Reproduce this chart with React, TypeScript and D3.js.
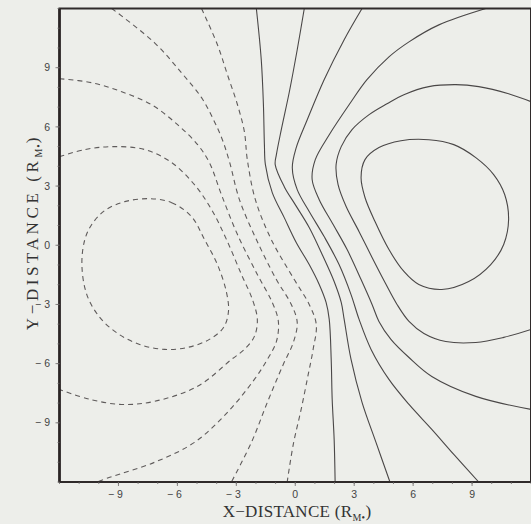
import React, {useRef, useEffect} from 'react';
import * as d3 from "d3";

type Pt = [number, number];

// negative (dashed) contours, x/y in R_M
const negLoop: Pt[] = [
  [-7.41, 2.36], [-6.29, 2.16], [-5.28, 1.45], [-4.62, 0.29], [-3.96, -0.98], [-3.5, -2.39],
  [-3.4, -3.36], [-3.65, -4.17], [-4.37, -4.77], [-5.48, -5.18], [-6.65, -5.28], [-7.92, -5.03],
  [-9.04, -4.47], [-9.95, -3.66], [-10.61, -2.5], [-10.86, -0.98], [-10.71, 0.29], [-10.36, 1.05],
  [-9.7, 1.76], [-8.68, 2.21],
];
const neg2: Pt[] = [
  [-12, 4.49], [-10.71, 4.85], [-9.29, 5.0], [-7.66, 4.85], [-6.29, 4.19], [-5.13, 3.07],
  [-4.26, 1.81], [-3.5, 0.29], [-2.74, -1.48], [-2.18, -2.75], [-1.93, -3.76], [-2.08, -4.62],
  [-2.59, -5.28], [-3.25, -5.79], [-4.97, -7.15], [-7.16, -7.91], [-8.83, -8.07], [-10.46, -7.81],
  [-12, -7.31],
];
const neg3: Pt[] = [
  [-12, 8.44], [-10.36, 8.24], [-8.83, 7.78], [-7.31, 7.12], [-5.99, 6.11], [-4.97, 5.1],
  [-4.37, 4.19], [-3.76, 2.57], [-2.94, 0.54], [-1.93, -1.48], [-1.17, -2.9], [-0.86, -3.86],
  [-0.96, -4.88], [-1.42, -5.79], [-2.08, -6.8], [-3.45, -8.47], [-5.13, -9.99], [-7.16, -11.0],
  [-9.44, -11.76], [-10.1, -12],
];
const neg4: Pt[] = [
  [-9.34, 12], [-7.16, 10.26], [-5.79, 8.74], [-4.77, 7.48], [-4.16, 6.36], [-3.71, 5.35],
  [-3.35, 4.24], [-2.84, 2.31], [-1.98, 0.29], [-0.96, -1.74], [-0.2, -3.0], [0.1, -3.91],
  [-0.1, -4.93], [-0.61, -6.04], [-1.42, -7.96], [-2.23, -9.99], [-3.25, -12],
];
const neg5: Pt[] = [
  [-4.77, 12], [-3.96, 10.16], [-3.45, 8.64], [-2.94, 7.12], [-2.59, 5.76], [-2.44, 4.34],
  [-2.03, 2.31], [-1.22, 0.29], [-0.05, -1.74], [0.71, -3.0], [1.07, -4.02], [0.91, -5.28],
  [0.66, -6.55], [0.3, -8.32], [-0.1, -10.09], [-0.41, -12],
];

// positive (solid) contours
const pos1: Pt[] = [
  [-1.98, 12], [-1.73, 9.4], [-1.62, 7.12], [-1.57, 5.1], [-1.52, 4.09], [-1.17, 2.67],
  [-0.56, 1.4], [0.05, 0.14], [0.71, -0.98], [1.22, -1.99], [1.57, -2.9], [1.73, -3.76],
  [1.83, -5.79], [1.88, -7.81], [1.98, -9.84], [2.03, -12],
];
const pos2: Pt[] = [
  [0.46, 12], [0.1, 9.91], [-0.3, 7.78], [-0.71, 5.86], [-0.96, 4.59], [-1.02, 4.09],
  [-0.56, 2.97], [0.0, 2.06], [0.71, 0.9], [1.37, -0.47], [1.98, -1.84], [2.34, -2.9],
  [2.49, -3.76], [2.84, -5.79], [3.4, -7.96], [4.11, -9.99], [4.82, -12],
];
const pos3: Pt[] = [
  [3.4, 12], [2.49, 10.42], [1.47, 8.39], [0.61, 6.36], [0.05, 4.95], [-0.15, 3.93],
  [0.1, 2.82], [0.71, 1.71], [1.47, 0.44], [2.23, -0.98], [2.84, -2.5], [3.25, -3.76],
  [3.86, -5.28], [4.77, -6.8], [5.79, -8.07], [6.95, -9.33], [8.07, -10.6], [9.34, -12],
];
const pos4: Pt[] = [
  [9.7, 12], [7.31, 11.17], [5.79, 10.31], [4.77, 9.55], [3.65, 8.39], [2.74, 7.12],
  [1.73, 5.6], [1.02, 4.34], [0.86, 3.33], [1.22, 2.31], [1.93, 1.05], [2.64, -0.22],
  [3.35, -1.74], [3.91, -3.0], [4.26, -3.86], [4.87, -4.77], [5.79, -5.69], [6.95, -6.65],
  [9.19, -7.66], [12, -8.32],
];
const pos5: Pt[] = [
  [12, 7.28], [10.86, 7.68], [9.34, 8.04], [8.17, 8.14], [6.8, 8.04], [5.53, 7.63],
  [4.67, 7.17], [3.76, 6.62], [2.89, 5.86], [2.34, 5.0], [2.08, 4.09], [2.18, 3.07],
  [2.59, 1.96], [3.25, 0.69], [3.91, -0.62], [4.57, -1.89], [5.18, -3.0], [5.79, -3.86],
  [6.55, -4.47], [7.66, -4.88], [9.19, -4.93], [10.61, -4.67], [12, -4.27],
];
const posLoop: Pt[] = [
  [6.8, 5.35], [8.07, 5.1], [9.19, 4.44], [10.1, 3.58], [10.66, 2.57], [10.86, 1.3],
  [10.61, 0.04], [9.95, -0.98], [8.83, -1.84], [7.46, -2.24], [6.29, -1.99], [5.53, -1.33],
  [4.77, -0.22], [4.06, 1.2], [3.55, 2.42], [3.35, 3.43], [3.55, 4.34], [4.26, 4.95],
  [5.38, 5.3],
];

const negOpen = [neg2, neg3, neg4, neg5];
const posOpen = [pos1, pos2, pos3, pos4, pos5];

const xTicks = [-9, -6, -3, 0, 3, 6, 9];
const yTicks = [-9, -6, -3, 0, 3, 6, 9];

function ContourPlot() {
  const canvas = useRef<HTMLDivElement>(null);

  useEffect(() => {
    const width = 531;
    const height = 524;
    d3.select(canvas.current).select('svg').remove();

    const x = d3.scaleLinear().domain([-12, 12]).range([59.5, 531]);
    const y = d3.scaleLinear().domain([-12, 12]).range([482, 8.5]);

    const svg = d3
      .select(canvas.current)
      .append("svg")
      .attr("width", width)
      .attr("height", height)
      .style("position", "absolute")
      .style("left", 0)
      .style("top", 0)
      .style("background", "#edeeea");

    svg.append("defs").append("clipPath").attr("id", "plotclip")
      .append("rect")
      .attr("x", x(-12)).attr("y", y(12))
      .attr("width", x(12) - x(-12)).attr("height", y(-12) - y(12));

    const open = d3.line<Pt>().x(d => x(d[0])).y(d => y(d[1])).curve(d3.curveCatmullRom.alpha(0.5));
    const closed = d3.line<Pt>().x(d => x(d[0])).y(d => y(d[1])).curve(d3.curveCatmullRomClosed.alpha(0.5));

    const g = svg.append("g").attr("clip-path", "url(#plotclip)").attr("fill", "none");

    // dashed = negative
    g.selectAll(".neg")
      .data(negOpen)
      .enter()
      .append("path")
      .attr("d", d => open(d))
      .attr("stroke", "#5f5b5b")
      .attr("stroke-width", 1.1)
      .attr("stroke-dasharray", "5,4");
    g.append("path")
      .attr("d", closed(negLoop))
      .attr("stroke", "#5f5b5b")
      .attr("stroke-width", 1.1)
      .attr("stroke-dasharray", "5,4");

    // solid = positive
    g.selectAll(".pos")
      .data(posOpen)
      .enter()
      .append("path")
      .attr("d", d => open(d))
      .attr("stroke", "#4a4747")
      .attr("stroke-width", 1.1);
    g.append("path")
      .attr("d", closed(posLoop))
      .attr("stroke", "#4a4747")
      .attr("stroke-width", 1.1);

    // frame
    svg.append("rect")
      .attr("x", x(-12)).attr("y", y(12))
      .attr("width", x(12) - x(-12)).attr("height", y(-12) - y(12))
      .attr("fill", "none")
      .attr("stroke", "#2f2a2a")
      .attr("stroke-width", 2);
    svg.append("line")
      .attr("x1", x(-12)).attr("x2", x(-12))
      .attr("y1", y(12)).attr("y2", y(-12))
      .attr("stroke", "#2a2424")
      .attr("stroke-width", 2.6);

    const tickColor = "#6a6666";
    const fontSans = "'Liberation Sans', Arial, sans-serif";
    const fmt = (d: number) => d < 0 ? `\u2212 ${-d}` : `${d}`;

    // minor ticks every unit
    const minor = d3.range(-12, 13);
    svg.selectAll(".mx").data(minor).enter().append("line")
      .attr("x1", d => x(d)).attr("x2", d => x(d))
      .attr("y1", y(-12)).attr("y2", y(-12) + 2)
      .attr("stroke", tickColor).attr("stroke-width", 0.8);
    svg.selectAll(".my").data(minor).enter().append("line")
      .attr("y1", d => y(d)).attr("y2", d => y(d))
      .attr("x1", x(-12)).attr("x2", x(-12) - 2)
      .attr("stroke", tickColor).attr("stroke-width", 0.8);

    // x axis
    svg.selectAll(".xt").data(xTicks).enter().append("line")
      .attr("x1", d => x(d)).attr("x2", d => x(d))
      .attr("y1", y(-12)).attr("y2", y(-12) + 4)
      .attr("stroke", tickColor).attr("stroke-width", 0.8);
    svg.selectAll(".xl").data(xTicks).enter().append("text")
      .attr("x", d => x(d) - (d < 0 ? 3 : 0))
      .attr("y", 498)
      .attr("text-anchor", "middle")
      .style("font-family", fontSans)
      .style("font-size", "10.5px")
      .attr("fill", "#444")
      .text(fmt);

    // y axis
    svg.selectAll(".yt").data(yTicks).enter().append("line")
      .attr("y1", d => y(d)).attr("y2", d => y(d))
      .attr("x1", x(-12)).attr("x2", x(-12) - 4)
      .attr("stroke", tickColor).attr("stroke-width", 0.8);
    svg.selectAll(".yl").data(yTicks).enter().append("text")
      .attr("x", 50)
      .attr("y", d => y(d))
      .attr("dy", "0.35em")
      .attr("text-anchor", "end")
      .style("font-family", fontSans)
      .style("font-size", "10.5px")
      .attr("fill", "#444")
      .text(fmt);

    // axis titles
    const serif = "'Liberation Serif', 'Times New Roman', serif";
    const xt = svg.append("text")
      .attr("x", 297)
      .attr("y", 517)
      .attr("text-anchor", "middle")
      .style("font-family", serif)
      .style("font-size", "17px")
      .style("letter-spacing", "0.3px")
      .attr("fill", "#333");
    xt.append("tspan").text("X\u2212DISTANCE (R");
    xt.append("tspan").attr("dy", 4).style("font-size", "10px").text("M\u2022");
    xt.append("tspan").attr("dy", -4).text(")");

    const yt = svg.append("text")
      .attr("transform", "translate(38, 232) rotate(-90)")
      .attr("text-anchor", "middle")
      .style("font-family", serif)
      .style("font-size", "17px")
      .style("letter-spacing", "3.6px")
      .attr("fill", "#333");
    yt.append("tspan").text("Y\u2212DISTANCE (R");
    yt.append("tspan").attr("dy", 4).style("font-size", "10px").style("letter-spacing", "1px").text("M\u2022");
    yt.append("tspan").attr("dy", -4).text(")");
  }, []);

  return (
    <div ref={canvas}>
    </div>
  );
}

export default function App() {
  return <ContourPlot />;
}
